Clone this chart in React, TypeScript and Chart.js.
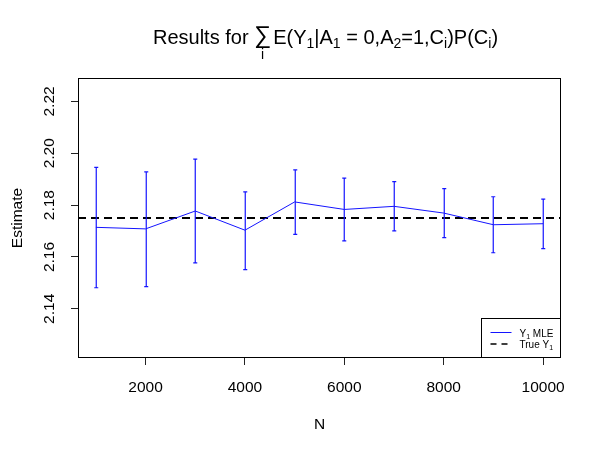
import { useEffect, useRef } from 'react';
import { Chart, registerables } from 'chart.js';

Chart.register(...registerables);

const N_VALUES = [1000, 2000, 3000, 4000, 5000, 6000, 7000, 8000, 9000, 10000];
const MLE_EST = [2.1714, 2.1708, 2.1777, 2.1703, 2.1812, 2.1783, 2.1795, 2.1769, 2.1724, 2.1728];
const MLE_UPPER = [2.1945, 2.1928, 2.1977, 2.1851, 2.1936, 2.1904, 2.189, 2.1863, 2.1832, 2.1823];
const MLE_LOWER = [2.1481, 2.1485, 2.1577, 2.1551, 2.1687, 2.1662, 2.17, 2.1674, 2.1616, 2.1632];
const TRUE_Y1 = 2.175;
const X_RANGE = [640, 10360];
const Y_RANGE = [2.121, 2.229];
const X_TICKS = [2000, 4000, 6000, 8000, 10000];
const Y_TICKS = [2.14, 2.16, 2.18, 2.2, 2.22];

const TITLE_PRE = 'Results for ';
const TITLE_SUM = '\u2211';
const TITLE_SUM_INDEX = 'i';
const TITLE_PARTS: [string, boolean][] = [
  ['E(Y', false], ['1', true], ['|A', false], ['1', true], [' = 0,A', false], ['2', true],
  ['=1,C', false], ['i', true], [')P(C', false], ['i', true], [')', false],
];
const LEGEND_MLE: [string, boolean][] = [['Y', false], ['1', true], [' MLE', false]];
const LEGEND_TRUE: [string, boolean][] = [['True Y', false], ['1', true]];
const X_TITLE = 'N';
const Y_TITLE = 'Estimate';

const FONT = '"Liberation Sans", Arial, Helvetica, sans-serif';
const BLUE = 'rgb(20,20,255)';

function richWidth(ctx: CanvasRenderingContext2D, parts: [string, boolean][], size: number, subSize: number) {
  let w = 0;
  for (const [t, sub] of parts) {
    ctx.font = `${sub ? subSize : size}px ${FONT}`;
    w += ctx.measureText(t).width;
  }
  return w;
}

function drawRich(ctx: CanvasRenderingContext2D, parts: [string, boolean][], x: number, y: number, size: number, subSize: number, shift: number) {
  for (const [t, sub] of parts) {
    ctx.font = `${sub ? subSize : size}px ${FONT}`;
    ctx.fillText(t, x, sub ? y + shift : y);
    x += ctx.measureText(t).width;
  }
  return x;
}

const rPlugin = {
  id: 'rstyle',
  afterDatasetsDraw(chart: any) {
    const ctx: CanvasRenderingContext2D = chart.ctx;
    const xs = chart.scales.x;
    const ys = chart.scales.y;
    const area = chart.chartArea;
    ctx.save();
    ctx.beginPath();
    ctx.rect(area.left, area.top, area.right - area.left, area.bottom - area.top);
    ctx.clip();
    ctx.strokeStyle = BLUE;
    ctx.lineWidth = 1.2;
    for (let i = 0; i < N_VALUES.length; i++) {
      const px = Math.round(xs.getPixelForValue(N_VALUES[i])) + 0.25;
      const y1 = ys.getPixelForValue(MLE_LOWER[i]);
      const y2 = ys.getPixelForValue(MLE_UPPER[i]);
      ctx.beginPath();
      ctx.moveTo(px, y1);
      ctx.lineTo(px, y2);
      ctx.moveTo(px - 2, y1);
      ctx.lineTo(px + 2, y1);
      ctx.moveTo(px - 2, y2);
      ctx.lineTo(px + 2, y2);
      ctx.stroke();
    }
    ctx.restore();
  },
  afterDraw(chart: any) {
    const ctx: CanvasRenderingContext2D = chart.ctx;
    const area = chart.chartArea;
    ctx.save();
    // plot box
    ctx.strokeStyle = '#000';
    ctx.lineWidth = 1;
    const l = Math.round(area.left) + 0.5;
    const t = Math.round(area.top) + 0.5;
    const r = Math.round(area.right) - 0.5;
    const b = Math.round(area.bottom) - 0.5;
    ctx.strokeRect(l, t, r - l, b - t);

    // legend
    const lw = 79;
    const lh = 39;
    const lx = r - lw;
    const ly = b - lh;
    ctx.fillStyle = '#fff';
    ctx.fillRect(lx, ly, lw, lh);
    ctx.strokeStyle = '#000';
    ctx.strokeRect(lx, ly, lw, lh);
    ctx.beginPath();
    ctx.strokeStyle = BLUE;
    ctx.lineWidth = 1;
    ctx.moveTo(lx + 9, ly + 14);
    ctx.lineTo(lx + 30, ly + 14);
    ctx.stroke();
    ctx.beginPath();
    ctx.strokeStyle = '#000';
    ctx.lineWidth = 1.5;
    ctx.setLineDash([6, 5]);
    ctx.moveTo(lx + 9, ly + 25.5);
    ctx.lineTo(lx + 30, ly + 25.5);
    ctx.stroke();
    ctx.setLineDash([]);
    ctx.fillStyle = '#000';
    ctx.textBaseline = 'alphabetic';
    ctx.textAlign = 'left';
    drawRich(ctx, LEGEND_MLE, lx + 38, ly + 18, 10, 7, 2);
    drawRich(ctx, LEGEND_TRUE, lx + 38, ly + 29.5, 10, 7, 2);

    // title
    const size = 20;
    const subSize = 14;
    const sumSize = 24;
    ctx.font = `${size}px ${FONT}`;
    const preW = ctx.measureText(TITLE_PRE).width;
    ctx.font = `${sumSize}px ${FONT}`;
    const sumW = ctx.measureText(TITLE_SUM).width;
    const restW = richWidth(ctx, TITLE_PARTS, size, subSize);
    const total = preW + sumW + 2 + restW;
    const cx = (area.left + area.right) / 2 + 6;
    let x = cx - total / 2;
    const base = 44;
    ctx.fillStyle = '#000';
    ctx.font = `${size}px ${FONT}`;
    ctx.fillText(TITLE_PRE, x, base);
    x += preW;
    ctx.font = `${sumSize}px ${FONT}`;
    ctx.fillText(TITLE_SUM, x, base - 1);
    ctx.font = `${subSize}px ${FONT}`;
    ctx.textAlign = 'center';
    ctx.fillText(TITLE_SUM_INDEX, x + sumW / 2, base + 15);
    ctx.textAlign = 'left';
    x += sumW + 2;
    drawRich(ctx, TITLE_PARTS, x, base, size, subSize, 4);
    ctx.restore();
  },
};

export default function App() {
  const ref = useRef<HTMLCanvasElement>(null);
  useEffect(() => {
    document.body.style.margin = '0';
    const tickFont = { family: FONT, size: 15.5 };
    const chart = new Chart(ref.current!, {
      type: 'line',
      data: {
        datasets: [
          {
            label: 'Y1 MLE',
            data: N_VALUES.map((n, i) => ({ x: n, y: MLE_EST[i] })),
            borderColor: BLUE,
            borderWidth: 1,
            pointRadius: 0,
            tension: 0,
            fill: false,
          },
          {
            label: 'True Y1',
            data: X_RANGE.map((x) => ({ x, y: TRUE_Y1 })),
            borderColor: '#000',
            borderWidth: 2,
            borderDash: [8, 5],
            pointRadius: 0,
            fill: false,
          },
        ],
      },
      options: {
        animation: false,
        responsive: false,
        maintainAspectRatio: false,
        layout: { padding: { top: 78, right: 40, bottom: 0, left: 0 } },
        plugins: {
          legend: { display: false },
          title: { display: false },
          tooltip: { enabled: false },
        },
        scales: {
          x: {
            type: 'linear',
            min: X_RANGE[0],
            max: X_RANGE[1],
            afterBuildTicks: (s: any) => {
              s.ticks = X_TICKS.map((v) => ({ value: v }));
            },
            afterFit: (s: any) => {
              s.height = 98;
            },
            grid: { display: true, drawOnChartArea: false, drawTicks: true, tickLength: 7, color: '#222', lineWidth: 1 },
            border: { display: false },
            ticks: {
              font: tickFont,
              color: '#000',
              padding: 13,
              maxRotation: 0,
              callback: (v: any) => String(v),
            },
            title: { display: true, text: X_TITLE, font: tickFont, color: '#000', padding: { top: 0, bottom: 22 } },
          },
          y: {
            type: 'linear',
            min: Y_RANGE[0],
            max: Y_RANGE[1],
            afterBuildTicks: (s: any) => {
              s.ticks = Y_TICKS.map((v) => ({ value: v }));
            },
            afterFit: (s: any) => {
              s.width = 78;
            },
            grid: { display: true, drawOnChartArea: false, drawTicks: true, tickLength: 7, color: '#222', lineWidth: 1 },
            border: { display: false },
            ticks: {
              font: tickFont,
              color: '#000',
              padding: 21,
              minRotation: 90,
              maxRotation: 90,
              labelOffset: -15,
              callback: (v: any) => Number(v).toFixed(2),
            },
            title: { display: true, text: Y_TITLE, font: tickFont, color: '#000', padding: { top: 8, bottom: 0 } },
          },
        },
      },
      plugins: [rPlugin],
    } as any);
    return () => chart.destroy();
  }, []);
  return (
    <div style={{ width: 601, height: 456 }}>
      <canvas ref={ref} width={601} height={456} style={{ display: 'block' }} />
    </div>
  );
}
